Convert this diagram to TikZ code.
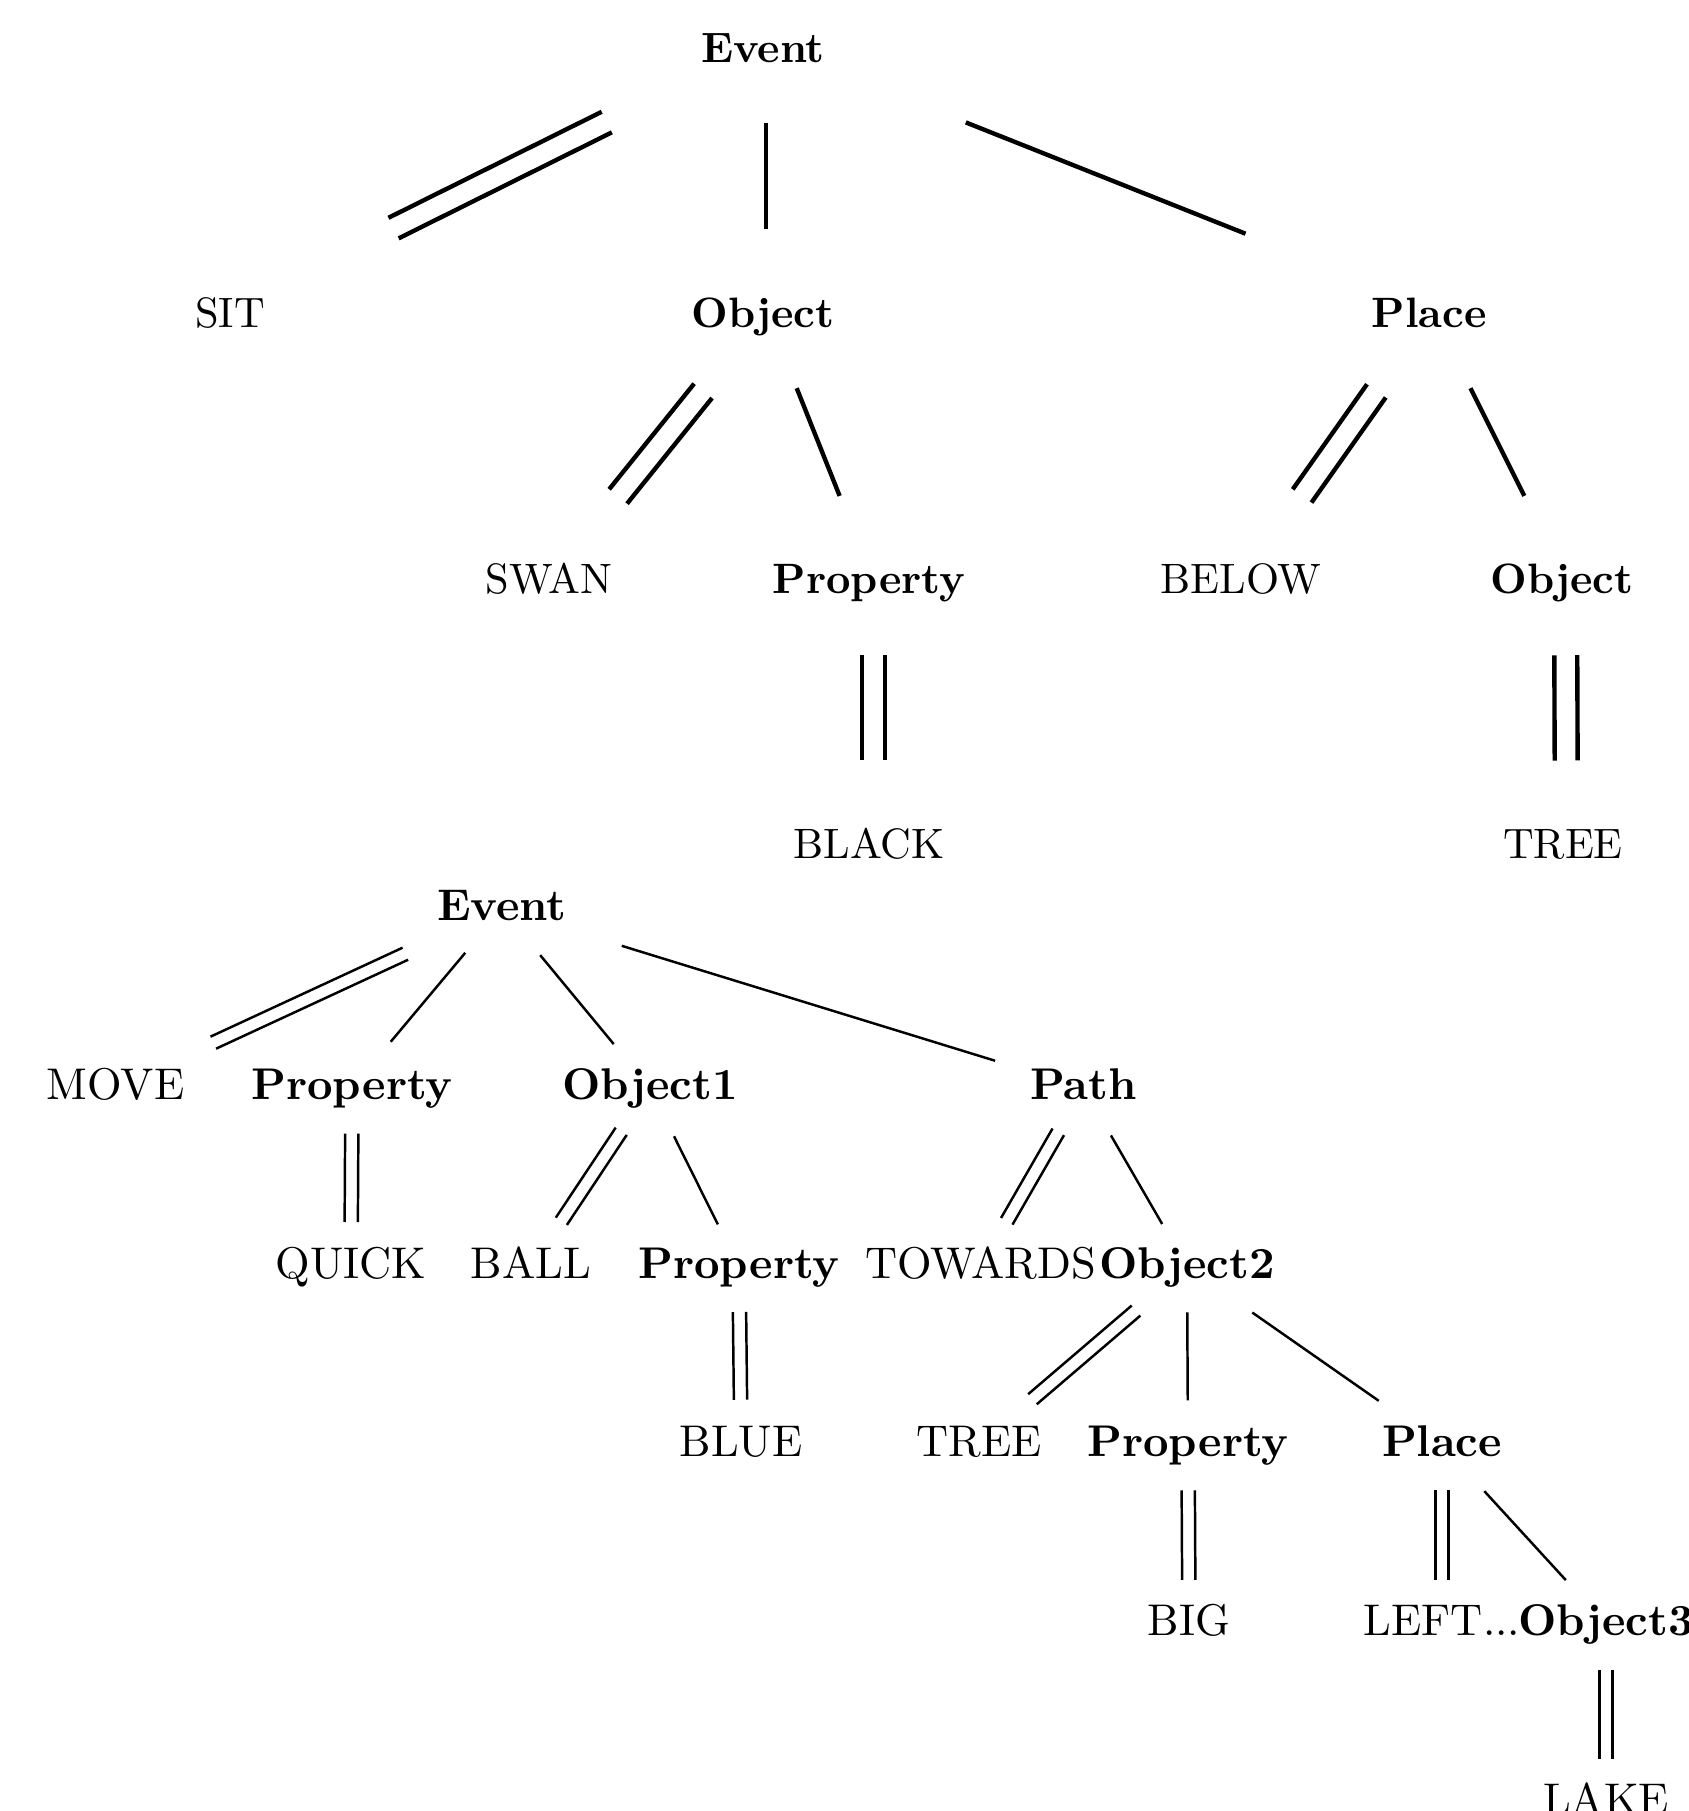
\documentclass[tikz,border=0pt]{standalone}
\usetikzlibrary{calc}
\tikzset{
  tnode/.style={anchor=base, inner sep=0pt, text height=7pt, text depth=2pt, font=\fontsize{10}{12}\selectfont},
  bnode/.style={anchor=base, inner sep=0pt, text height=7.3pt, text depth=2.1pt, font=\fontsize{10.45}{12.5}\selectfont},
  tline/.style={line width=1.03pt},
  bline/.style={line width=0.58pt},
}
\newcommand{\lnk}[6]{\draw[#1] ($(#2)!#4!(#3)+(#6)$) -- ($(#2)!#5!(#3)+(#6)$);}
\newcommand{\dlnk}[7]{%
  \coordinate (q1) at ($(#2)!#4!(#3)+(#7)$);%
  \coordinate (q2) at ($(#2)!#5!(#3)+(#7)$);%
  \draw[#1] ($(q1)!#6!90:(q2)$) -- ($(q2)!#6!270:(q1)$);%
  \draw[#1] ($(q1)!#6!270:(q2)$) -- ($(q2)!#6!90:(q1)$);%
}
\begin{document}
\begin{tikzpicture}[x=0.23529pt, y=-0.23529pt]
\useasboundingbox (0,0) rectangle (1688,1811);
\clip (0,0) rectangle (1688,1811);
\fill[white] (0,0) rectangle (1688,1811);

\node[tnode] (E1)    at (763,62)   {\textbf{Event}};
\node[tnode] (SIT)   at (230,327)  {SIT};
\node[tnode] (O1)    at (763,327)  {\textbf{Object}};
\node[tnode] (PL1)   at (1429,327) {\textbf{Place}};
\node[tnode] (SWAN)  at (549,593)  {SWAN};
\node[tnode] (PR1)   at (869,593)  {\textbf{Property}};
\node[tnode] (BELOW) at (1241,593) {BELOW};
\node[tnode] (O1b)   at (1562,593) {\textbf{Object}};
\node[tnode] (BLACK) at (869,858)  {BLACK};
\node[tnode] (TREE1) at (1563,858) {TREE};

\dlnk{tline}{E1}{SIT}{0.28}{0.68}{2.7pt}{-7,-3.5}

\lnk{tline}{E1}{O1}{0.272}{0.672}{3,0}

\lnk{tline}{E1}{PL1}{0.285}{0.705}{13,-4.5}

\dlnk{tline}{O1}{SWAN}{0.28}{0.677}{2.7pt}{0,0}

\lnk{tline}{O1}{PR1}{0.285}{0.69}{3.5,-4}

\dlnk{tline}{PL1}{BELOW}{0.28}{0.675}{2.7pt}{0,0}

\lnk{tline}{PL1}{O1b}{0.285}{0.69}{3.5,-4}

\dlnk{tline}{PR1}{BLACK}{0.275}{0.672}{2.7pt}{4.5,0}

\dlnk{tline}{O1b}{TREE1}{0.275}{0.672}{2.7pt}{3.5,0}

\node[bnode] (E2)      at (502,920)   {\textbf{Event}};
\node[bnode] (MOVE)    at (115.5,1099) {MOVE};
\node[bnode] (PR2)     at (352,1099)  {\textbf{Property}};
\node[bnode] (OB1)     at (650,1099)  {\textbf{Object1}};
\node[bnode] (PATH)    at (1083.5,1099) {\textbf{Path}};
\node[bnode] (QUICK)   at (351,1278)  {QUICK};
\node[bnode] (BALL)    at (531,1278)  {BALL};
\node[bnode] (PR3)     at (739,1278)  {\textbf{Property}};
\node[bnode] (TOWARDS) at (980.5,1278) {TOWARDS};
\node[bnode] (OB2)     at (1187,1278) {\textbf{Object2}};
\node[bnode] (BLUE)    at (741,1456)  {BLUE};
\node[bnode] (TREE2)   at (979,1456)  {TREE};
\node[bnode] (PR4)     at (1188,1456) {\textbf{Property}};
\node[bnode] (PL2)     at (1442,1456) {\textbf{Place}};
\node[bnode] (BIG)     at (1189,1635) {BIG};
\node[bnode] (LEFT)    at (1442,1635) {LEFT...};
\node[bnode] (OB3)     at (1606,1635) {\textbf{Object3}};
\node[bnode] (LAKE)    at (1606,1814) {LAKE};

\dlnk{bline}{E2}{MOVE}{0.25}{0.747}{1.56pt}{0,0}

\lnk{bline}{E2}{PR2}{0.245}{0.742}{0,0}

\lnk{bline}{E2}{OB1}{0.258}{0.755}{0,0}

\lnk{bline}{E2}{PATH}{0.206}{0.848}{0,0}

\dlnk{bline}{PR2}{QUICK}{0.255}{0.749}{1.56pt}{0,0}

\dlnk{bline}{OB1}{BALL}{0.242}{0.745}{1.56pt}{0,0}

\lnk{bline}{OB1}{PR3}{0.27}{0.762}{0,0}

\dlnk{bline}{PATH}{TOWARDS}{0.245}{0.745}{1.56pt}{0,0}

\lnk{bline}{PATH}{OB2}{0.265}{0.76}{0,0}

\dlnk{bline}{PR3}{BLUE}{0.253}{0.746}{1.56pt}{0,0}

\dlnk{bline}{OB2}{TREE2}{0.245}{0.743}{1.56pt}{0,0}

\lnk{bline}{OB2}{PR4}{0.255}{0.75}{0,0}

\lnk{bline}{OB2}{PL2}{0.256}{0.752}{0,0}

\dlnk{bline}{PR4}{BIG}{0.254}{0.754}{1.56pt}{0,0}

\dlnk{bline}{PL2}{LEFT}{0.254}{0.754}{1.56pt}{0,0}

\lnk{bline}{PL2}{OB3}{0.258}{0.755}{0,0}

\dlnk{bline}{OB3}{LAKE}{0.259}{0.752}{1.56pt}{0,0}
\end{tikzpicture}
\end{document}
